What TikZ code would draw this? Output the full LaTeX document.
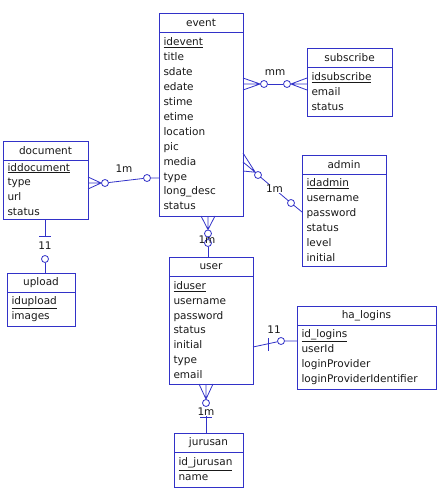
\documentclass[tikz,border=0pt]{standalone}
\usepackage{fontspec}
\setmainfont{DejaVu Sans}
\usepackage{xcolor}
\usetikzlibrary{positioning}
\definecolor{erblue}{RGB}{50,50,200}
\definecolor{ertext}{RGB}{25,25,25}

\begin{document}
\begin{tikzpicture}[x=1pt,y=-1pt,line width=0.8pt,
  head node/.style={draw=erblue, anchor=north west, outer sep=0pt, minimum height=19pt, inner sep=0pt, text=ertext, font=\fontsize{10.5}{14.9}\selectfont},
  attr node/.style={draw=erblue, anchor=north west, outer sep=0pt, align=left, inner xsep=4.5pt, inner ysep=2pt, text=ertext, font=\fontsize{10.5}{14.9}\selectfont},
  ring/.style={circle, draw=erblue, fill=white, inner sep=0pt, minimum size=7pt},
  link/.style={draw=erblue},
  card/.style={text=ertext, font=\fontsize{10.5}{12}\selectfont, inner sep=0.5pt}]
			\useasboundingbox (0,0) rectangle (442,492);
			% Entities
			\node[head node, minimum width=84pt] (event) at (159,13) {event};
			\node[attr node, text width=75pt, minimum height=184pt] (event-a) at (event.south west)
			{\underline{idevent}\\title\\sdate\\edate\\stime\\etime\\location\\pic\\media\\type\\long\_desc\\status};
			
			\node[head node, minimum width=85pt] (subscribe) at (307,48) {subscribe};
			\node[attr node, text width=76pt, minimum height=49pt] (subscribe-a) at (subscribe.south west)
			{\underline{idsubscribe}\\email\\status};
			
			\node[head node, minimum width=84pt] (admin) at (302,155) {admin};
			\node[attr node, text width=75pt, minimum height=92pt] (admin-a) at (admin.south west)
			{\underline{idadmin}\\username\\password\\status\\level\\initial};
			
			\node[head node, minimum width=85pt] (document) at (3,141) {document};
			\node[attr node, text width=76pt, minimum height=59pt] (document-a) at (document.south west)
			{\underline{iddocument}\\type\\url\\status};
			
			\node[head node, minimum width=68pt] (upload) at (7,273) {upload};
			\node[attr node, text width=59pt, minimum height=34pt] (upload-a) at (upload.south west)
			{\underline{idupload}\\images};
			
			\node[head node, minimum width=84pt] (user) at (169,257) {user};
			\node[attr node, text width=75pt, minimum height=108pt] (user-a) at (user.south west)
			{\underline{iduser}\\username\\password\\status\\initial\\type\\email};
			
			\node[head node, minimum width=69pt] (jurusan) at (174,433) {jurusan};
			\node[attr node, text width=60pt, minimum height=35pt] (jurusan-a) at (jurusan.south west)
			{\underline{id\_jurusan}\\name};
			
			\node[head node, minimum width=139pt] (halogins) at (297,306) {ha\_logins};
			\node[attr node, text width=130pt, minimum height=64pt] (halogins-a) at (halogins.south west)
			{\underline{id\_logins}\\userId\\loginProvider\\loginProviderIdentifier};
			
			% event -- subscribe
			\node[ring] (r1) at (264,84) {};
			\node[ring] (r2) at (287,84) {};
			\draw[link] (r1) -- (r2);
			\draw[link] (r1.west) -- (event-a.east |- 0,78) (r1.west) -- (event-a.east |- r1) (r1.west) -- (event-a.east |- 0,90);
			\draw[link] (r2.east) -- (subscribe-a.west |- 0,78) (r2.east) -- (subscribe-a.west |- r2) (r2.east) -- (subscribe-a.west |- 0,90);
			\node[card] at (275,73) {mm};
			
			% document -- event
			\node[ring] (r3) at (105,183) {};
			\node[ring] (r4) at (147,178) {};
			\draw[link] (r3) -- (r4) (r4) -- (event-a.west |- r4);
			\draw[link] (r3.west) -- (document-a.east |- 0,177) (r3.west) -- (document-a.east |- r3) (r3.west) -- (document-a.east |- 0,189);
			\node[card] at (124,169) {1m};
			
			% event -- admin
			\node[ring] (r5) at (258,175) {};
			\node[ring] (r6) at (291,203) {};
			\draw[link] (r5) -- node[card, fill=white] {1m} (r6);
			\draw[link] (r6) -- (admin-a.west |- 0,212);
			\draw[link] (r5.north west) -- (event-a.east |- 0,153) (r5.north west) -- (event-a.east |- 0,162) (r5.north west) -- (event-a.east |- 0,171);
			
			% event -- user
			\node[ring] (r7) at (208,233.5) {};
			\node[ring] (r8) at (208,243) {};
			\draw[link] (r7) -- (r8) (r8) -- (user.north -| r8);
			\draw[link] (r7.north) -- (event-a.south -| 201,0) (r7.north) -- (event-a.south -| r7) (r7.north) -- (event-a.south -| 215,0);
			\node[card] at (207,240) {1m};
			
			% user -- jurusan
			\node[ring] (r9) at (206,403) {};
			\coordinate (b1) at (206,417);
			\draw[link] (r9) -- (jurusan.north -| r9);
			\draw[link] (r9.north) -- (user-a.south -| 199,0) (r9.north) -- (user-a.south -| r9) (r9.north) -- (user-a.south -| 213,0);
			\draw[link] ([xshift=-6pt]b1) -- ([xshift=6pt]b1);
			\node[card, fill=white] at (206,411.5) {1m};
			
			% document -- upload
			\coordinate (b2) at (45,236);
			\node[ring] (r10) at (45,259) {};
			\draw[link] (document-a.south -| b2) -- (b2);
			\draw[link] ([xshift=-6pt]b2) -- ([xshift=6pt]b2);
			\draw[link] (r10) -- (upload.north -| r10);
			\node[card] at (45,246) {11};
			
			% user -- ha_logins
			\node[ring] (r11) at (281,341) {};
			\coordinate (b3) at (268,344);
			\draw[link] (user-a.east |- 0,347) -- (r11) (r11) -- (halogins-a.west |- r11);
			\draw[link] ([yshift=-6.5pt]b3) -- ([yshift=6.5pt]b3);
			\node[card] at (274,330) {11};
			
		\end{tikzpicture}
\end{document}
